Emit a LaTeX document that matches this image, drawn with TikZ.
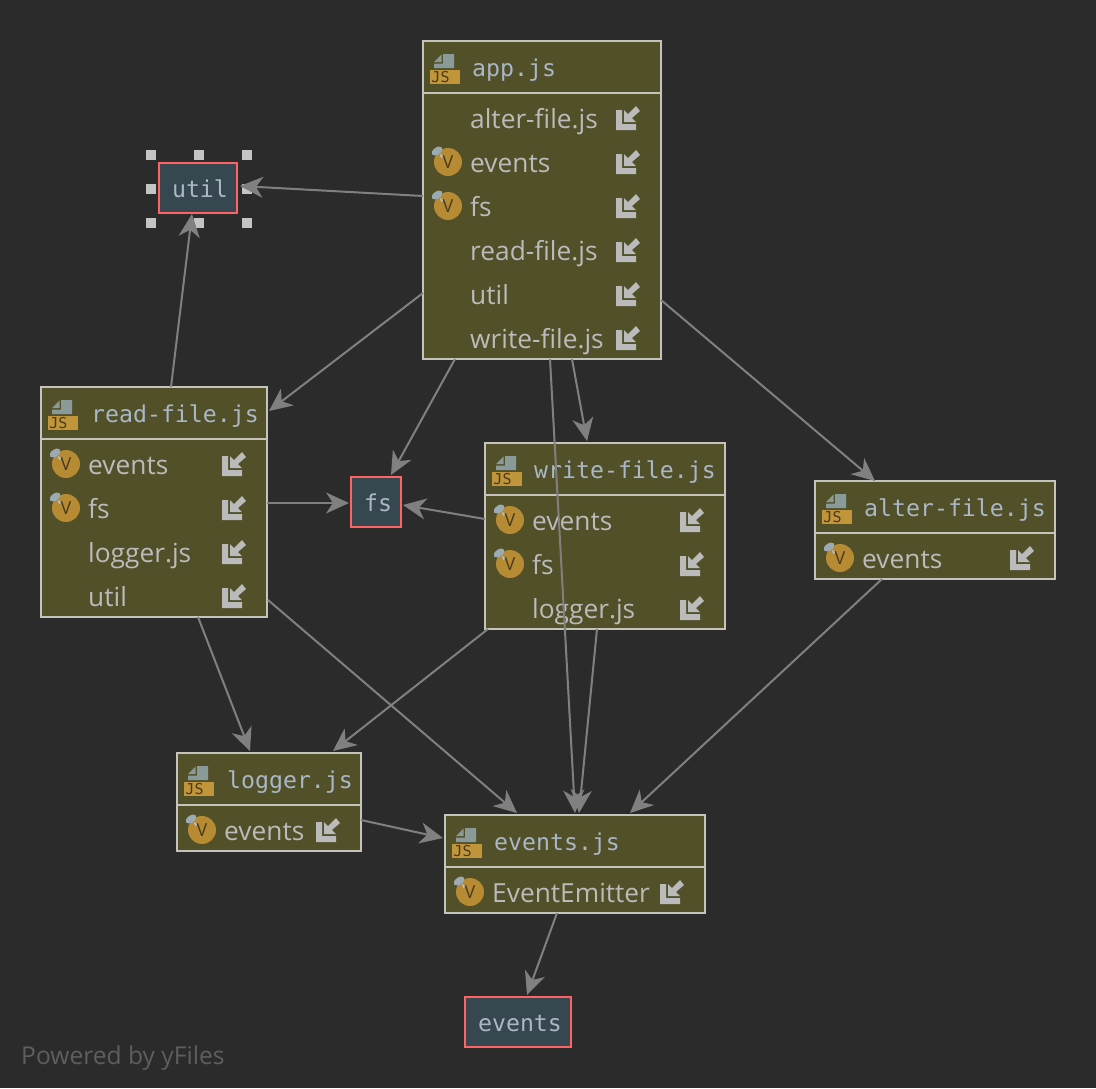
\documentclass[tikz,border=0pt]{standalone}
\usepackage{fontspec}
\usetikzlibrary{arrows.meta}
\setmainfont{Open Sans}
\newfontfamily\monof{DejaVu Sans Mono}
\definecolor{bgc}{HTML}{2B2B2B}
\definecolor{olivec}{HTML}{515028}
\definecolor{boxline}{HTML}{C4C4BC}
\definecolor{titlec}{HTML}{A9B7C6}
\definecolor{memberc}{HTML}{BBBBBB}
\definecolor{slatec}{HTML}{36474F}
\definecolor{redc}{HTML}{FF6464}
\definecolor{edgec}{HTML}{808080}
\definecolor{jsc}{HTML}{C1963A}
\definecolor{jstext}{HTML}{4A3A1C}
\definecolor{pagec}{HTML}{8A9A98}
\definecolor{vc}{HTML}{B68B33}
\definecolor{pinc}{HTML}{9AABB5}
\definecolor{handlec}{HTML}{C4C4C4}
\definecolor{creditc}{HTML}{5E5E5E}
\tikzset{
  x=1pt,y=-1pt,
  filebox/.style={draw=boxline,fill=olivec,line width=2pt,inner sep=0pt,outer sep=0pt,anchor=north west},
  extbox/.style={draw=redc,fill=slatec,line width=2pt,inner sep=0pt,outer sep=0pt,anchor=north west,text=titlec,font=\monof\fontsize{23.2}{23}\selectfont,text height=19pt,text depth=0pt},
  titletext/.style={text=titlec,font=\monof\fontsize{23.2}{23}\selectfont,inner sep=0pt,anchor=base west},
  membertext/.style={text=memberc,font=\fontsize{26.3}{27}\selectfont,inner sep=0pt,anchor=base west},
  edge/.style={draw=edgec,line width=2pt,-{Stealth[length=23pt,width=21pt,inset=7pt]}},
  handle/.style={fill=handlec,draw=none,minimum size=10pt,inner sep=0pt,outer sep=0pt},
}
\newcommand{\exttext}[1]{\kern4pt #1}
\newcommand{\jsbox}[7]{% name x y w h title titlex
  \node[filebox,minimum width=#4pt,minimum height=#5pt] (#1) at (#2,#3) {};
  \draw[boxline,line width=2pt] ([yshift=-52pt]#1.north west) -- ([yshift=-52pt]#1.north east);
  \begin{scope}[shift={(#2,#3)}]
    \fill[pagec] (20,13) -- (31,13) -- (31,27) -- (11,27) -- (11,22.5) -- (20,22.5) -- cycle;
    \fill[pagec] (11,21) -- (18.5,13.5) -- (18.5,21) -- cycle;
    \fill[jsc] (7,29) rectangle (37,43);
    \node[text=jstext,font=\monof\fontsize{15}{15}\selectfont,inner sep=0pt,anchor=base] at (17.5,41) {JS};
    \node[titletext] at (#7,35) {#6};
  \end{scope}
}
\newcommand{\member}[5]{% x-left x-right rowy hasV text
  \node[membertext] at (#1+47,#3+9) {#5};
  \ifnum#4=1
    \fill[vc] (#1+25,#3-1) circle (14);
    \fill[pinc,rotate around={35:(#1+14,#3-12)}] (#1+14,#3-12) ellipse (6 and 3.5);
    \fill[pinc!70!white] (#1+17,#3-9) -- (#1+21,#3-7) -- (#1+18,#3-5) -- cycle;
    \node[text=jstext,font=\fontsize{18}{18}\selectfont,inner sep=0pt,anchor=base] at (#1+25,#3+5.5) {V};
  \fi
  \fill[memberc] (#2-45,#3-9) -- (#2-39,#3-9) -- (#2-39,#3+5) -- (#2-25,#3+5) -- (#2-25,#3+11) -- (#2-45,#3+11) -- cycle;
  \fill[memberc] (#2-37,#3-9) -- (#2-37,#3+3) -- (#2-25,#3+3) -- (#2-29,#3-1) -- (#2-21,#3-8) -- (#2-25,#3-13) -- (#2-33,#3-5) -- cycle;
}
\begin{document}
\begin{tikzpicture}
\fill[bgc] (0,0) rectangle (1096,1088);
\useasboundingbox (0,0) rectangle (1096,1088);

% selection handles
\foreach \hn/\hx/\hy in {ha/151/155,hb/199/155,hc/247/155,hd/151/189,he/247/189,hf/151/223,hg/199/223,hh/247/223}
  \node[handle] (\hn) at (\hx,\hy) {};

% external modules
\node[extbox,minimum width=78pt,minimum height=50pt] (util) at (159,163) {\exttext{util}};
\node[extbox,minimum width=50pt,minimum height=50pt] (fsmod) at (351,477) {\exttext{fs}};
\node[extbox,minimum width=106pt,minimum height=50pt] (eventsmod) at (465,997) {\exttext{events}};

% files
\jsbox{appjs}{423}{41}{238}{318}{app.js}{49}
\member{423}{661}{119}{0}{alter-file.js}
\member{423}{661}{163}{1}{events}
\member{423}{661}{207}{1}{fs}
\member{423}{661}{251}{0}{read-file.js}
\member{423}{661}{295}{0}{util}
\member{423}{661}{339}{0}{write-file.js}

\jsbox{readjs}{41}{387}{226}{230}{read-file.js}{50}
\member{41}{267}{465}{1}{events}
\member{41}{267}{509}{1}{fs}
\member{41}{267}{553}{0}{logger.js}
\member{41}{267}{597}{0}{util}

\jsbox{writejs}{485}{443}{240}{186}{write-file.js}{49}
\member{485}{725}{521}{1}{events}
\member{485}{725}{565}{1}{fs}
\member{485}{725}{609}{0}{logger.js}

\jsbox{alterjs}{815}{481}{240}{98}{alter-file.js}{49}
\member{815}{1055}{559}{1}{events}

\jsbox{loggerjs}{177}{753}{184}{98}{logger.js}{50}
\member{177}{361}{831}{1}{events}

\jsbox{eventsjs}{445}{815}{260}{98}{events.js}{49}
\member{445}{705}{893}{1}{EventEmitter}

% connectors
\draw[edge] ([yshift=-155pt]appjs.north west) -- ([xshift=3pt,yshift=-23pt]util.north east);
\draw[edge] ([xshift=130pt]readjs.north west) -- ([xshift=33pt,yshift=-1pt]util.south west);
\draw[edge] ([yshift=-252pt]appjs.north west) -- ([xshift=2pt,yshift=-24pt]readjs.north east);
\draw[edge] ([xshift=32pt]appjs.south west) -- ([xshift=40pt,yshift=2pt]fsmod.north west);
\draw[edge] ([xshift=149pt]appjs.south west) -- ([xshift=102pt,yshift=2pt]writejs.north west);
\draw[edge] ([xshift=127pt]appjs.south west) -- ([xshift=130pt,yshift=2pt]eventsjs.north west);
\draw[edge] ([yshift=-259pt]appjs.north east) -- ([xshift=60pt,yshift=0pt]alterjs.north west);
\draw[edge] ([yshift=-116pt]readjs.north east) -- ([xshift=-2pt,yshift=-26pt]fsmod.north west);
\draw[edge] ([yshift=-76pt]writejs.north west) -- ([xshift=2pt,yshift=-28pt]fsmod.north east);
\draw[edge] ([xshift=3pt]writejs.south west) -- ([xshift=156pt,yshift=2pt]loggerjs.north west);
\draw[edge] ([xshift=112pt]writejs.south west) -- ([xshift=134pt,yshift=2pt]eventsjs.north west);
\draw[edge] ([xshift=157pt]readjs.south west) -- ([xshift=73pt,yshift=2pt]loggerjs.north west);
\draw[edge] ([xshift=1pt,yshift=17pt]readjs.south east) -- ([xshift=72pt,yshift=2pt]eventsjs.north west);
\draw[edge] ([xshift=67pt]alterjs.south west) -- ([xshift=185pt,yshift=2pt]eventsjs.north west);
\draw[edge] ([yshift=-67pt]loggerjs.north east) -- ([xshift=-2pt,yshift=-23pt]eventsjs.north west);
\draw[edge] ([xshift=112pt]eventsjs.south west) -- ([xshift=62pt,yshift=2pt]eventsmod.north west);

\node[text=creditc,font=\fontsize{24.6}{25}\selectfont,inner sep=0pt,anchor=base west] (credit) at (21,1064) {Powered by yFiles};
\end{tikzpicture}
\end{document}
